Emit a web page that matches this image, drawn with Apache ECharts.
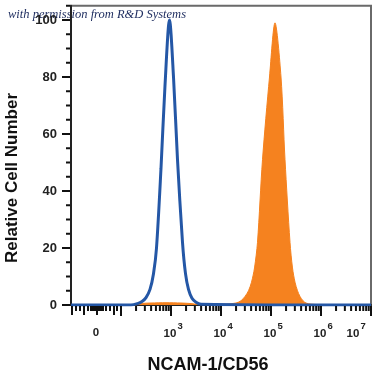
<!DOCTYPE html>
<html><head><meta charset="utf-8">
<script src="https://cdn.jsdelivr.net/npm/echarts@6/dist/echarts.min.js"></script>
<style>html,body{margin:0;padding:0;background:#fff}#c{width:375px;height:375px}</style>
</head><body><div id="c"></div>
<script>
// x values are display positions in decades (log10 of fluorescence; 0 sits at 1.52)
const blueX = [1.0, 2.2, 2.33, 2.42, 2.5, 2.58, 2.65, 2.71, 2.8, 2.88, 2.97, 3.05, 3.13, 3.23, 3.29, 3.35, 3.42, 3.5, 3.6, 7.0];
const blueY = [0, 0, 0.5, 1.2, 2.6, 5.5, 11, 20, 48, 77, 100, 80, 51, 22, 11, 5.5, 2.4, 1, 0.3, 0];
const orangeX = [1.0, 2.3, 2.4, 2.6, 2.9, 3.2, 3.4, 3.55, 4.1, 4.3, 4.4, 4.48, 4.55, 4.61, 4.67, 4.73, 4.83, 4.97, 5.08, 5.2, 5.28, 5.38, 5.43, 5.48, 5.53, 5.58, 5.64, 5.7, 5.8, 6.2, 7.0];
const orangeY = [0, 0, 0.5, 0.7, 0.8, 0.7, 0.5, 0.2, 0.3, 0.7, 1.5, 3, 5, 8, 13, 22, 51, 80, 99, 80, 51, 22, 13, 8, 5, 3, 1.5, 0.7, 0.3, 0, 0];

const xDecades = [2, 3, 4, 5, 6, 7];
const xMinorMultipliers = [2, 3, 4, 5, 6, 7, 8, 9];
const xLinearTicks = [1.02, 1.10, 1.18, 1.26, 1.34, 1.40, 1.44, 1.48, 1.52, 1.56, 1.60, 1.64, 1.70, 1.78, 1.86, 1.92];
const xLinearMajor = [1.02, 1.26, 1.52, 1.86];
const xLabelPos = [1.52, 3, 4, 5, 6, 7];
const xLabelBase = ['0', '10', '10', '10', '10', '10'];
const xLabelExp = ['', '3', '4', '5', '6', '7'];
const yMajorTicks = [0, 20, 40, 60, 80, 100];
const yMinorTicks = [5, 10, 15, 25, 30, 35, 45, 50, 55, 65, 70, 75, 85, 90, 95, 105];

const X_MIN = 1, X_MAX = 7, Y_MAX = 105;
const FONT = '"Liberation Sans", Arial, sans-serif';

const xTickData = [];
xLinearTicks.forEach(t => xTickData.push([t, 0, xLinearMajor.includes(t) ? 9 : 5]));
xDecades.forEach((d, i) => {
  xTickData.push([d, 0, 10]);
  if (i < xDecades.length - 1) xMinorMultipliers.forEach(m => xTickData.push([d + Math.log10(m), 0, 5]));
});
const yTickData = [];
yMajorTicks.forEach(v => yTickData.push([X_MIN, v, 8]));
yMinorTicks.forEach(v => yTickData.push([X_MIN, v, 4]));
const labelData = xLabelPos.map((t, i) => [t, 0, i]);

const chart = echarts.init(document.getElementById('c'), null, {renderer: 'canvas'});
chart.setOption({
  animation: false,
  backgroundColor: '#fff',
  grid: {left: 71, right: 4, top: 5.75, bottom: 70, show: true, borderColor: '#6a6a6a', borderWidth: 2, backgroundColor: 'transparent'},
  xAxis: {
    type: 'value', min: X_MIN, max: X_MAX,
    axisLine: {show: true, lineStyle: {color: '#222', width: 2}},
    axisTick: {show: false}, axisLabel: {show: false}, splitLine: {show: false}
  },
  yAxis: {
    type: 'value', min: 0, max: Y_MAX, interval: 20,
    axisLine: {show: true, lineStyle: {color: '#222', width: 2}},
    axisTick: {show: false}, splitLine: {show: false},
    axisLabel: {show: true, showMaxLabel: false, margin: 14, fontSize: 13, fontWeight: 'bold', color: '#222', fontFamily: FONT}
  },
  graphic: [
    {type: 'text', left: 8, top: 8, style: {text: 'with permission from R&D Systems', font: 'italic 12.5px "Liberation Serif", serif', fill: '#1c2b5e'}},
    {type: 'text', x: 12, y: 178, rotation: Math.PI / 2, style: {text: 'Relative Cell Number', font: 'bold 17px ' + FONT, fill: '#111', align: 'center', verticalAlign: 'middle'}},
    {type: 'text', x: 208, y: 365, style: {text: 'NCAM-1/CD56', font: 'bold 18px ' + FONT, fill: '#111', align: 'center', verticalAlign: 'middle'}}
  ],
  series: [
    {
      type: 'line', name: 'NCAM-1', data: orangeX.map((x, i) => [x, orangeY[i]]),
      smooth: 0.3, showSymbol: false, z: 2,
      lineStyle: {width: 1, color: '#f5821f'}, areaStyle: {color: '#f5821f', opacity: 1}, itemStyle: {color: '#f5821f'}
    },
    {
      type: 'line', name: 'Isotype', data: blueX.map((x, i) => [x, blueY[i]]),
      smooth: 0.3, showSymbol: false, z: 3,
      lineStyle: {width: 3, color: '#2457a6'}, itemStyle: {color: '#2457a6'}
    },
    {
      type: 'custom', data: xTickData, clip: false, z: 4, silent: true,
      renderItem: (params, api) => {
        const p = api.coord([api.value(0), 0]);
        const len = api.value(2);
        return {type: 'line', shape: {x1: p[0], y1: p[1] + 1, x2: p[0], y2: p[1] + 1 + len}, style: {stroke: '#111', lineWidth: 2}};
      }
    },
    {
      type: 'custom', data: yTickData, clip: false, z: 4, silent: true,
      renderItem: (params, api) => {
        const p = api.coord([api.value(0), api.value(1)]);
        const len = api.value(2);
        return {type: 'line', shape: {x1: p[0] - 1 - len, y1: p[1], x2: p[0] - 1, y2: p[1]}, style: {stroke: '#111', lineWidth: 2}};
      }
    },
    {
      type: 'custom', data: labelData, clip: false, z: 4, silent: true,
      renderItem: (params, api) => {
        const p = api.coord([api.value(0), 0]);
        const i = api.value(2);
        const exp = xLabelExp[i];
        if (!exp) {
          return {type: 'text', x: p[0] - 1, y: p[1] + 28, style: {text: xLabelBase[i], font: 'bold 11.5px ' + FONT, fill: '#222', align: 'center', verticalAlign: 'middle'}};
        }
        const shift = Math.min(0, api.getWidth() - 9 - (p[0] + 12));
        const x = p[0] + shift;
        return {type: 'group', children: [
          {type: 'text', x: x - 1, y: p[1] + 29, style: {text: xLabelBase[i], font: 'bold 11.5px ' + FONT, fill: '#222', align: 'center', verticalAlign: 'middle'}},
          {type: 'text', x: x + 6.5, y: p[1] + 21, style: {text: exp, font: 'bold 9.5px ' + FONT, fill: '#222', align: 'left', verticalAlign: 'middle'}}
        ]};
      }
    }
  ]
});
</script>
</body></html>
